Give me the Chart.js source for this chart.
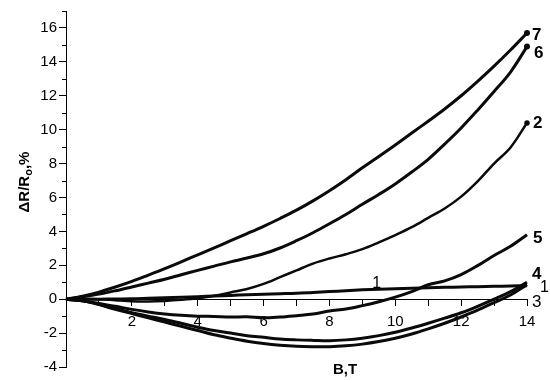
<!DOCTYPE html>
<html>
<head>
<meta charset="utf-8">
<script src="https://cdn.jsdelivr.net/npm/chart.js@4/dist/chart.umd.min.js"></script>
<style>
  html, body { margin: 0; padding: 0; background: #fff; }
  canvas { display: block; }
</style>
</head>
<body>
<canvas id="chart" width="550" height="380"></canvas>
<script>
// Magnetic field B, tesla (sampling of every curve)
const fieldT = [0, 0.5, 1, 1.5, 2, 2.5, 3, 3.5, 4, 4.5, 5, 5.5, 6, 6.5, 7,
                7.5, 8, 8.5, 9, 9.5, 10, 10.5, 11, 11.5, 12, 12.5, 13, 13.5, 14];

// Magnetoresistance dR/R0, %, for each sample
const curve1 = [0, 0, 0, 0.01, 0.02, 0.05, 0.08, 0.11, 0.15, 0.19, 0.22, 0.26, 0.29, 0.32, 0.35,
                0.4, 0.45, 0.5, 0.55, 0.59, 0.62, 0.65, 0.68, 0.7, 0.72, 0.74, 0.76, 0.78, 0.8];
const curve2 = [0, 0.02, 0, -0.06, -0.12, -0.13, -0.1, -0.04, 0.05, 0.2, 0.4, 0.6, 0.9, 1.3, 1.7,
                2.1, 2.4, 2.65, 2.95, 3.35, 3.78, 4.25, 4.8, 5.35, 6.05, 6.95, 8.0, 8.95, 10.4];
const curve3 = [0, -0.1, -0.32, -0.6, -0.85, -1.1, -1.35, -1.6, -1.85, -2.1, -2.3, -2.48, -2.62, -2.72, -2.78,
                -2.8, -2.8, -2.75, -2.65, -2.5, -2.3, -2.05, -1.75, -1.42, -1.05, -0.65, -0.2, 0.25, 0.85];
const curve4 = [0, -0.1, -0.3, -0.55, -0.8, -1.0, -1.2, -1.42, -1.65, -1.85, -2.0, -2.15, -2.25, -2.35, -2.4,
                -2.43, -2.45, -2.4, -2.3, -2.15, -1.95, -1.7, -1.42, -1.12, -0.8, -0.42, 0.0, 0.45, 1.0];
const curve5 = [0, -0.1, -0.25, -0.42, -0.6, -0.75, -0.87, -0.95, -1.0, -1.02, -1.05, -1.04, -1.1, -1.05, -0.97,
                -0.88, -0.7, -0.58, -0.38, -0.15, 0.12, 0.45, 0.85, 1.08, 1.45, 1.98, 2.58, 3.12, 3.8];
const curve6 = [0, 0.14, 0.3, 0.5, 0.72, 0.95, 1.18, 1.44, 1.7, 1.95, 2.2, 2.43, 2.68, 3.02, 3.45,
                3.92, 4.45, 5.0, 5.6, 6.18, 6.8, 7.5, 8.25, 9.15, 10.1, 11.15, 12.25, 13.4, 14.9];
const curve7 = [0, 0.18, 0.42, 0.72, 1.05, 1.42, 1.8, 2.2, 2.62, 3.03, 3.45, 3.87, 4.3, 4.76, 5.25,
                5.8, 6.4, 7.05, 7.75, 8.42, 9.1, 9.8, 10.5, 11.22, 12.0, 12.85, 13.75, 14.7, 15.7];

const seriesNames = ['1', '2', '3', '4', '5', '6', '7'];
const seriesValues = [curve1, curve2, curve3, curve4, curve5, curve6, curve7];

// Axis ranges and labelled ticks
const xRange = [0, 14];
const yRange = [-4, 17];
const xTickLabels = [2, 4, 6, 8, 10, 12, 14];
const yTickLabels = [-4, -2, 0, 2, 4, 6, 8, 10, 12, 14, 16];

// Where each curve's number sits relative to its last point (pixels)
const endLabelStyle = {
  '1': { dx: 13, dy: 2,  bold: false, size: 16 },
  '2': { dx: 6,  dy: 0,  bold: true,  size: 17 },
  '3': { dx: 5,  dy: 18, bold: false, size: 17 },
  '4': { dx: 5,  dy: -8, bold: true,  size: 17 },
  '5': { dx: 6,  dy: 4,  bold: true,  size: 17 },
  '6': { dx: 7,  dy: 7,  bold: true,  size: 17 },
  '7': { dx: 5,  dy: 2,  bold: true,  size: 17 }
};
const FONT = "'Liberation Sans', Arial, sans-serif";

const datasets = seriesNames.map((name, i) => ({
  label: name,
  data: fieldT.map((b, k) => ({ x: b, y: seriesValues[i][k] })),
  borderColor: '#0a0a0a',
  backgroundColor: '#0a0a0a',
  borderWidth: name === '2' ? 2.5 : 3,
  tension: 0.35,
  pointRadius: ctx => (ctx.dataIndex === fieldT.length - 1 && ['2', '6', '7'].includes(name)) ? 1.5 : 0,
  pointHoverRadius: 0,
  clip: 8
}));

const decorations = {
  id: 'decorations',
  afterDraw(chart) {
    const { ctx, scales: { x, y } } = chart;
    ctx.save();
    ctx.fillStyle = '#000';
    ctx.strokeStyle = '#000';
    ctx.lineWidth = 1;

    // short minor ticks on the vertical axis (odd values)
    for (let v = Math.ceil(y.min); v <= y.max; v++) {
      if (v % 2 === 0) continue;
      const py = Math.round(y.getPixelForValue(v)) + 0.5;
      ctx.beginPath();
      ctx.moveTo(y.right - 4, py);
      ctx.lineTo(y.right, py);
      ctx.stroke();
    }

    // curve numbers at the high-field end
    ctx.textAlign = 'left';
    ctx.textBaseline = 'middle';
    chart.data.datasets.forEach(ds => {
      const st = endLabelStyle[ds.label];
      const last = ds.data[ds.data.length - 1];
      ctx.font = (st.bold ? 'bold ' : '') + st.size + 'px ' + FONT;
      ctx.fillText(ds.label, x.getPixelForValue(last.x) + st.dx, y.getPixelForValue(last.y) + st.dy);
    });

    // number written on curve 1 inside the plot
    const k = fieldT.indexOf(9.5);
    ctx.font = '16px ' + FONT;
    ctx.textAlign = 'center';
    ctx.textBaseline = 'alphabetic';
    ctx.fillText('1', x.getPixelForValue(fieldT[k]) - 2, y.getPixelForValue(curve1[k]) - 1);

    // horizontal axis title
    ctx.font = 'bold 15px ' + FONT;
    ctx.textAlign = 'center';
    ctx.textBaseline = 'middle';
    ctx.fillText('B,T', 345, 370);

    // vertical axis title with subscript
    ctx.translate(24, 182);
    ctx.rotate(-Math.PI / 2);
    const big = 'bold 15px ' + FONT, small = 'bold 11px ' + FONT;
    ctx.font = big;
    const w1 = ctx.measureText('\u0394R/R').width;
    const w3 = ctx.measureText(',%').width;
    ctx.font = small;
    const w2 = ctx.measureText('o').width;
    let px = -(w1 + w2 + w3) / 2;
    ctx.textAlign = 'left';
    ctx.textBaseline = 'alphabetic';
    ctx.font = big;
    ctx.fillText('\u0394R/R', px, 5);
    px += w1;
    ctx.font = small;
    ctx.fillText('o', px, 8);
    px += w2;
    ctx.font = big;
    ctx.fillText(',%', px, 5);
    ctx.restore();
  }
};

new Chart(document.getElementById('chart'), {
  type: 'line',
  data: { datasets },
  plugins: [decorations],
  options: {
    responsive: false,
    animation: false,
    events: [],
    layout: { padding: { left: 0, top: 10, right: 23, bottom: 13 } },
    plugins: { legend: { display: false }, tooltip: { enabled: false } },
    scales: {
      x: {
        type: 'linear',
        position: { y: 0 },
        min: xRange[0],
        max: xRange[1],
        grid: { drawOnChartArea: false, tickLength: 6, color: '#000' },
        border: { display: true, color: '#000', width: 1 },
        ticks: {
          stepSize: 1,
          autoSkip: false,
          maxRotation: 0,
          padding: 8,
          color: '#000',
          font: { family: FONT, size: 15 },
          callback: v => xTickLabels.includes(v) ? String(v) : ''
        }
      },
      y: {
        type: 'linear',
        min: yRange[0],
        max: yRange[1],
        afterFit: s => { s.width = 66; },
        grid: {
          drawOnChartArea: false,
          tickLength: 7,
          tickColor: c => (c.tick && yTickLabels.includes(c.tick.value)) ? '#000' : 'rgba(0,0,0,0)'
        },
        border: { display: true, color: '#000', width: 1 },
        ticks: {
          stepSize: 1,
          autoSkip: false,
          padding: 2,
          color: '#000',
          font: { family: FONT, size: 15 },
          callback: v => yTickLabels.includes(v) ? String(v) : ''
        }
      }
    }
  }
});
</script>
</body>
</html>
